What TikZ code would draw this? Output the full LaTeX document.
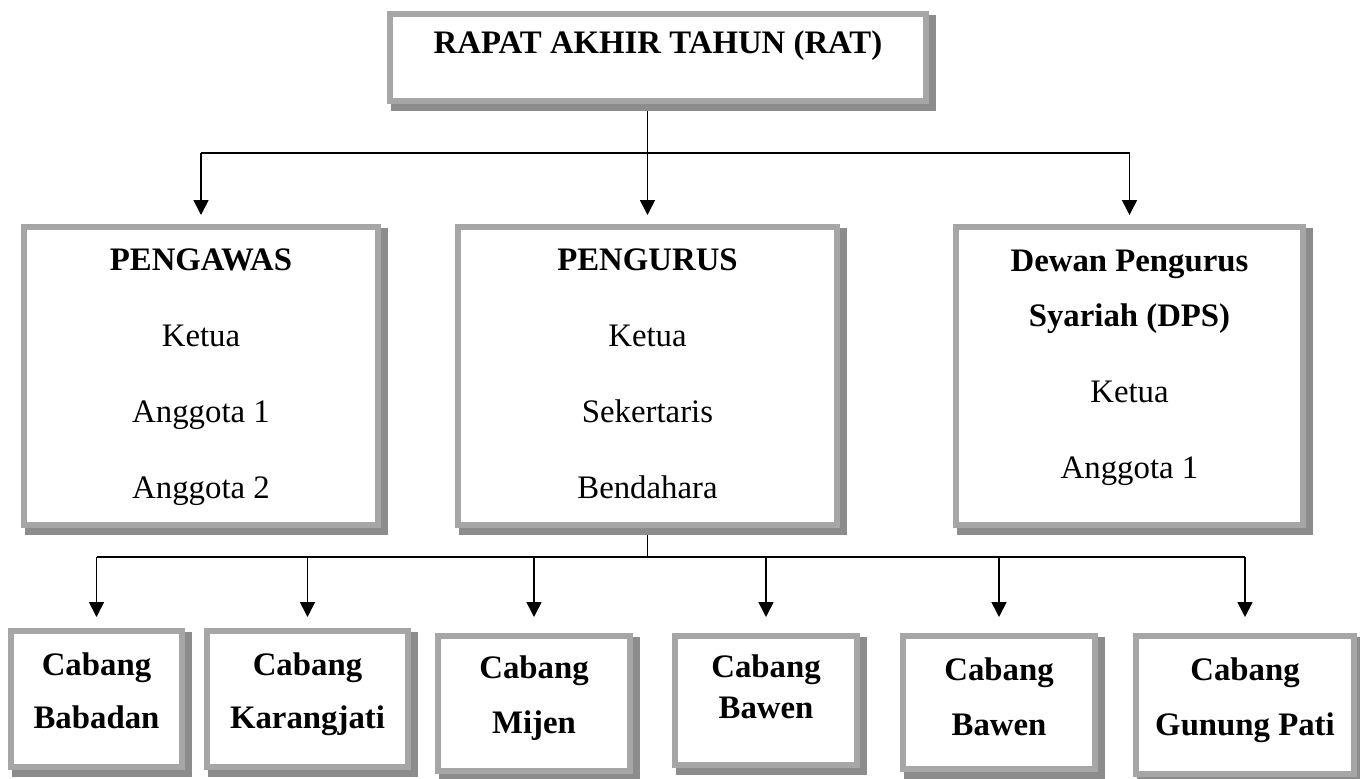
\documentclass[tikz,border=0pt]{standalone}
\usepackage{fontspec}
\setmainfont{Liberation Serif}
\usetikzlibrary{arrows.meta,backgrounds}
\definecolor{boxgray}{HTML}{A6A6A6}
\definecolor{shadowgray}{HTML}{8C8C8C}
\begin{document}
\begin{tikzpicture}[x=0.5pt,y=-0.5pt,
        box/.style={draw=boxgray,line width=3pt,fill=white,inner sep=0pt,outer sep=0pt,anchor=north west,align=center},
        bigbox/.style={box,font=\fontsize{16.4}{38}\selectfont},
        branch/.style={box,font=\fontsize{16.4}{26.5}\selectfont\bfseries},
        line/.style={line width=0.8pt},
        arr/.style={line,-{Triangle[length=7.5pt,width=7.5pt]}}]
                \useasboundingbox (0,0) rectangle (1360,778);
                %% RAT
                \node[box,font=\fontsize{16.4}{19}\selectfont\bfseries,minimum width=268pt,text height=19.5pt,text depth=24pt] (rat) at (390,14) {RAPAT AKHIR TAHUN (RAT)};
                %% Pengawas/Pengurus/DPS
                \node[bigbox,minimum width=177pt,text height=135.5pt,text depth=13.5pt] (pengawas) at (24,227) {\textbf{PENGAWAS}\\Ketua\\Anggota 1\\Anggota 2};
                \node[bigbox,minimum width=189.5pt,text height=135.5pt,text depth=13.5pt] (pengurus) at (458,227) {\textbf{PENGURUS}\\Ketua\\Sekertaris\\Bendahara};
                \node[bigbox,minimum width=173.5pt,text height=125.5pt,text depth=23.5pt] (dps) at (956,227) {\textbf{Dewan Pengurus}\\[-10.5pt]\textbf{Syariah (DPS)}\\Ketua\\Anggota 1};
                %% cabang
                \node[branch,minimum width=85.5pt,text height=48.5pt,text depth=19.5pt] (c1) at (11,631) {Cabang\\Babadan};
                \node[branch,minimum width=100.5pt,text height=48.5pt,text depth=19.5pt] (c2) at (207,631) {Cabang\\Karangjati};
                \node[branch,minimum width=96pt,text height=48.5pt,text depth=19pt] (c3) at (438,636) {Cabang\\[1pt]Mijen};
                \node[branch,minimum width=91pt,text height=41pt,text depth=23.5pt] (c4) at (675,636) {Cabang\\[-6pt]Bawen};
                \node[branch,minimum width=96pt,text height=49.5pt,text depth=17pt] (c5) at (903,636) {Cabang\\[1pt]Bawen};
                \node[branch,minimum width=109pt,text height=49.5pt,text depth=19.5pt] (c6) at (1136,636) {Cabang\\[1pt]Gunung Pati};
                %% shadows
                \begin{scope}[on background layer]
                    \foreach \b in {rat,pengawas,pengurus,dps,c1,c2,c3,c4,c5,c6}
                        \fill[shadowgray] ([shift={(1,1)}]\b.north west) rectangle ([shift={(10,10)}]\b.south east);
                \end{scope}
                %% connectors
                \coordinate (bus1) at (0,153);
                \coordinate (tip1) at (0,215);
                \coordinate (bus2) at (0,557);
                \coordinate (tip2) at (0,617);
                \draw[line,line width=0.6pt,shorten <=5pt] (rat.south -| pengurus.north) -- (bus1 -| pengurus.north);
                \draw[line] (bus1 -| pengawas.north) -- (bus1 -| dps.north);
                \foreach \b in {pengawas,pengurus,dps}
                    \draw[arr] (bus1 -| \b.north) -- (tip1 -| \b.north);
                \draw[line,line width=0.6pt,shorten <=5pt] (pengurus.south) -- (bus2 -| pengurus.south);
                \draw[line] (bus2 -| c1.north) -- (bus2 -| c6.north);
                \foreach \b in {c1,c2,c3,c4,c5,c6}
                    \draw[arr] (bus2 -| \b.north) -- (tip2 -| \b.north);
            \end{tikzpicture}
\end{document}
